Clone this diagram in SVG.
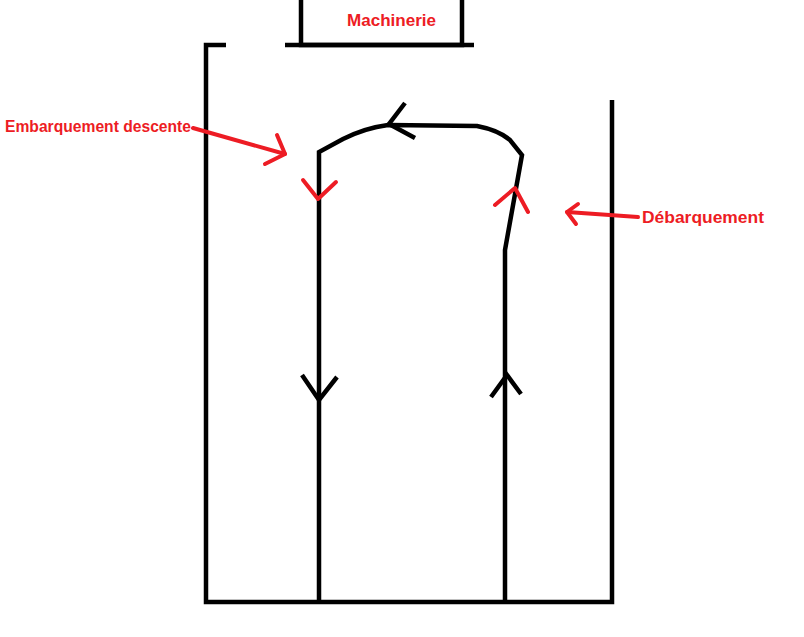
<svg xmlns="http://www.w3.org/2000/svg" width="804" height="637" viewBox="0 0 804 637">
<style>
.k{fill:none;stroke:#000;stroke-width:4.5;stroke-linejoin:miter;stroke-linecap:butt}
.r{fill:none;stroke:#ED1C24;stroke-width:4;stroke-linecap:round;stroke-linejoin:round}
.t{fill:#ED1C24;font-family:"Liberation Sans",Arial,sans-serif;font-weight:bold;font-size:17px}
</style>
<rect width="804" height="637" fill="#fff"/>
<g id="shaft">
<polyline class="k" points="226,45 206,45 206,602 612,602 612,100"/>
</g>
<g id="machinerie">
<polyline class="k" points="301,0 301,45 462,45 462,0"/>
<line class="k" x1="285" y1="45" x2="474" y2="45"/>
<text class="t" x="347" y="26" textLength="89" lengthAdjust="spacingAndGlyphs">Machinerie</text>
</g>
<g id="connectors">
<path class="k" d="M319,602 L319,152 L343,139 Q365,128 388,125 L477,126 Q498,130 510,140 L522,155 L505,250 L505,602"/>
<polyline class="k" points="302,375 319,400 337,377"/>
<polyline class="k" points="491,397 507,375 521,394"/>
<polyline class="k" points="405,103 389,124 415,138"/>
</g>
<g id="embarquement">
<text class="t" x="5" y="132" textLength="186" lengthAdjust="spacingAndGlyphs">Embarquement descente</text>
<line class="r" x1="193" y1="128" x2="285" y2="154"/>
<polyline class="r" points="277,135 285,154 265,164"/>
<polyline class="r" points="303,180 318,199 336,182"/>
</g>
<g id="debarquement">
<text class="t" x="642" y="223" textLength="122" lengthAdjust="spacingAndGlyphs">Débarquement</text>
<line class="r" x1="638" y1="217" x2="567" y2="212"/>
<polyline class="r" points="578,204 567,212 576,224"/>
<polyline class="r" points="495,205 515,188 528,212"/>
</g>
</svg>
